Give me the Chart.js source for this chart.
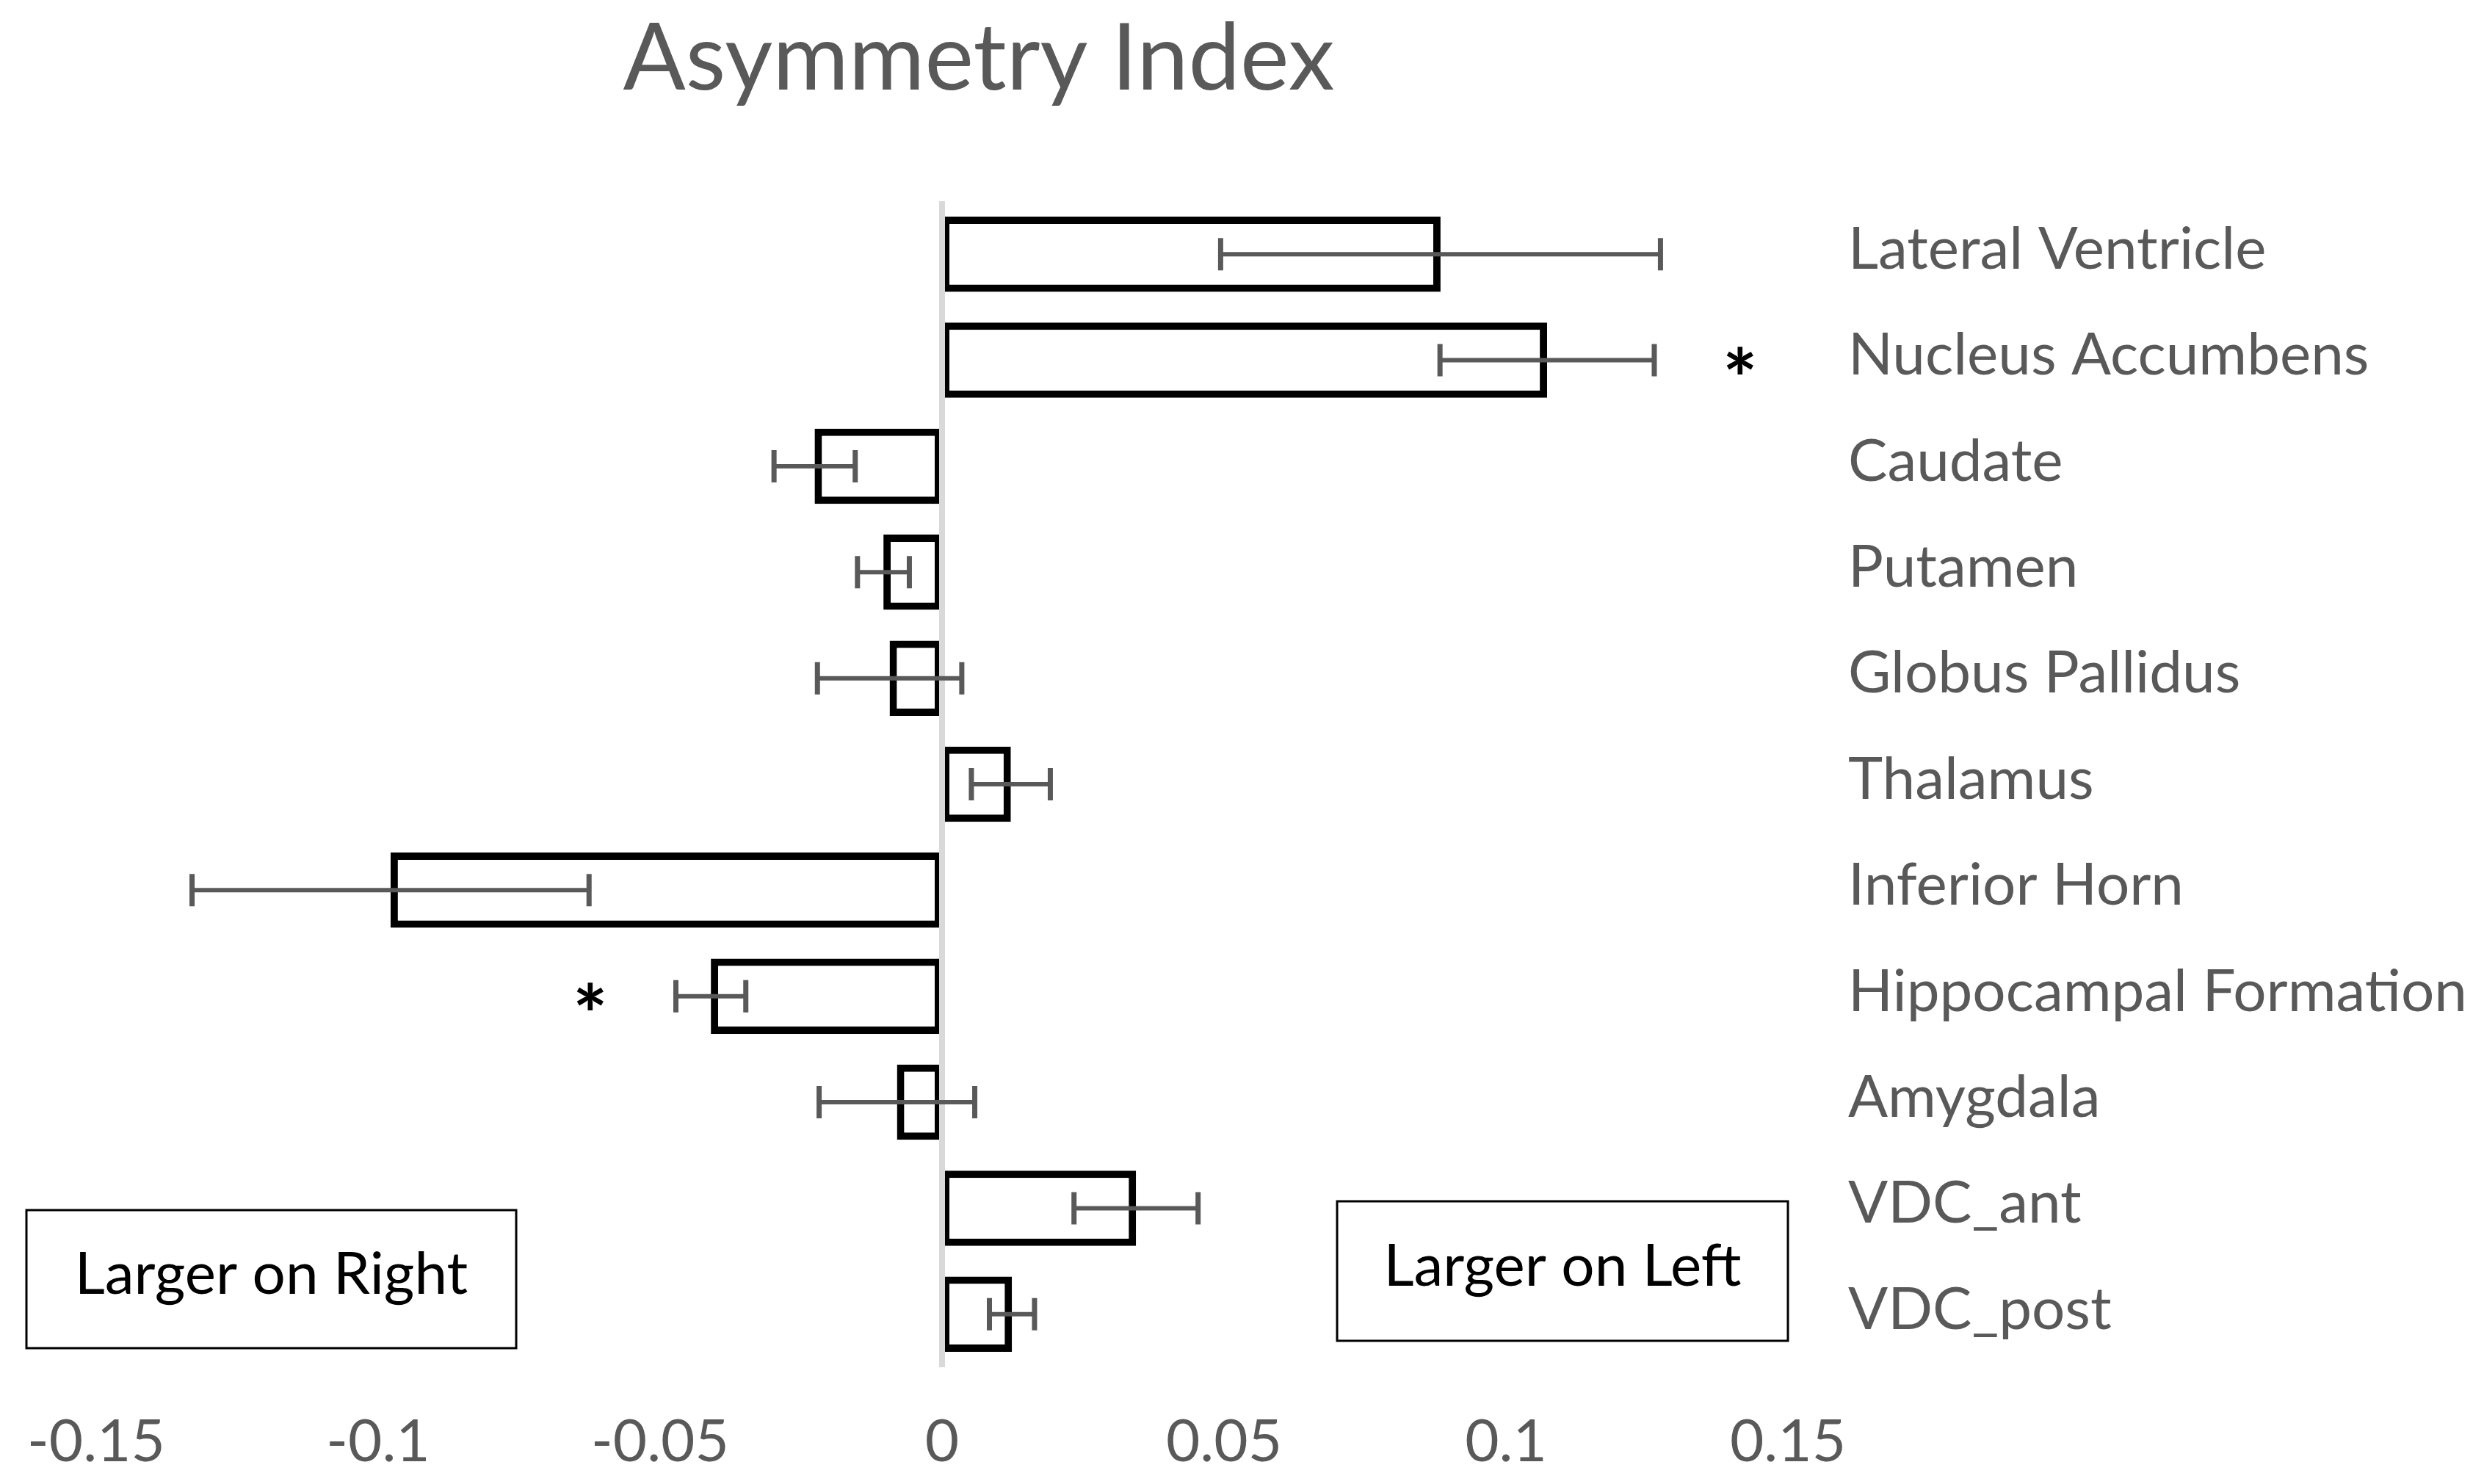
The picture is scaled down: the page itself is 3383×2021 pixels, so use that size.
<!DOCTYPE html>
<html>
<head>
<meta charset="utf-8">
<title>Asymmetry Index</title>
<script src="https://cdn.jsdelivr.net/npm/chart.js@4.4.1/dist/chart.umd.min.js"></script>
<style>
    html, body { margin: 0; padding: 0; background: #fff; }
    #wrap { width: 3383px; height: 2021px; }
</style>
</head>
<body>
<div id="wrap"><canvas id="asym-chart" width="3383" height="2021"></canvas></div>
<script>
/* ============================================= */
/*                     Data                      */
/* ============================================= */

const regions = ["Lateral Ventricle", "Nucleus Accumbens", "Caudate", "Putamen", "Globus Pallidus",
    "Thalamus", "Inferior Horn", "Hippocampal Formation", "Amygdala", "VDC_ant", "VDC_post"];
const asymmetry = [0.0884, 0.1073, -0.0226, -0.0104, -0.0093, 0.0122, -0.0978, -0.0410, -0.0080, 0.0344, 0.0124];
const stdError = [0.0390, 0.0190, 0.0072, 0.0046, 0.0128, 0.0070, 0.0352, 0.0062, 0.0138, 0.0110, 0.0040];
const significant = [false, true, false, false, false, false, false, true, false, false, false];
const xTicks = [-0.15, -0.1, -0.05, 0, 0.05, 0.1, 0.15];

const GREY = '#595959';
const FONT = 'Lato';

/* ============================================= */
/*         Zero line, error bars, notes          */
/* ============================================= */

const overlayPlugin = {
    id: 'overlay',
    afterDatasetsDraw(chart) {
        const { ctx, chartArea } = chart;
        const xs = chart.scales.x;
        const meta = chart.getDatasetMeta(0);
        const x0 = xs.getPixelForValue(0);

        ctx.save();
        // grey zero axis sits over the bar ends
        ctx.strokeStyle = '#d9d9d9';
        ctx.lineWidth = 8;
        ctx.beginPath();
        ctx.moveTo(x0, chartArea.top);
        ctx.lineTo(x0, chartArea.bottom);
        ctx.stroke();

        // error bars
        ctx.strokeStyle = GREY;
        meta.data.forEach((bar, i) => {
            const lo = xs.getPixelForValue(asymmetry[i] - stdError[i]);
            const hi = xs.getPixelForValue(asymmetry[i] + stdError[i]);
            const y = bar.y;
            ctx.lineWidth = 6;
            ctx.beginPath();
            ctx.moveTo(lo, y); ctx.lineTo(hi, y);
            ctx.stroke();
            ctx.lineWidth = 7;
            ctx.beginPath();
            ctx.moveTo(lo, y - 22); ctx.lineTo(lo, y + 22);
            ctx.moveTo(hi, y - 22); ctx.lineTo(hi, y + 22);
            ctx.stroke();
        });

        // significance stars, just past the error bar
        ctx.fillStyle = '#000';
        ctx.font = `bold 112px ${FONT}`;
        ctx.textAlign = 'center';
        ctx.textBaseline = 'alphabetic';
        meta.data.forEach((bar, i) => {
            if (!significant[i]) return;
            const side = asymmetry[i] >= 0 ? 1 : -1;
            const end = asymmetry[i] + side * stdError[i];
            const sx = xs.getPixelForValue(end + side * 0.0152);
            ctx.fillText('*', sx, bar.y + 66);
        });
        ctx.restore();
    },
    afterDraw(chart) {
        const { ctx, chartArea } = chart;
        ctx.save();

        // title
        ctx.fillStyle = GREY;
        ctx.font = `126px ${FONT}`;
        ctx.textAlign = 'center';
        ctx.textBaseline = 'alphabetic';
        ctx.fillText('Asymmetry Index', 1333, 122);

        // side notes
        const notes = [
            { text: 'Larger on Right', x: 36, y: 1648, w: 667, h: 188 },
            { text: 'Larger on Left', x: chartArea.right - 614, y: 1636, w: 614, h: 190 }
        ];
        ctx.strokeStyle = '#000';
        ctx.lineWidth = 3;
        ctx.font = `80px ${FONT}`;
        ctx.textBaseline = 'middle';
        notes.forEach(n => {
            ctx.fillStyle = '#fff';
            ctx.fillRect(n.x, n.y, n.w, n.h);
            ctx.strokeRect(n.x, n.y, n.w, n.h);
            ctx.fillStyle = '#000';
            ctx.fillText(n.text, n.x + n.w / 2, n.y + n.h / 2 - 6);
        });
        ctx.restore();
    }
};

/* ============================================= */
/*                  Bar Graph                    */
/* ============================================= */

const asymCanvas = document.getElementById('asym-chart');

const asymData = {
    labels: regions,
    datasets: [{
        data: asymmetry,
        backgroundColor: '#ffffff',
        borderColor: '#000000',
        borderWidth: 10,
        borderSkipped: false,
        categoryPercentage: 1,
        barPercentage: 0.71
    }]
};

const asymOptions = {
    indexAxis: 'y',
    responsive: false,
    devicePixelRatio: 1,
    animation: false,
    layout: {
        padding: { top: 274, left: 131, right: 0, bottom: 0 }
    },
    scales: {
        x: {
            min: -0.15,
            max: 0.15,
            grid: { display: false, drawTicks: false },
            border: { display: false },
            afterBuildTicks: scale => {
                scale.ticks = xTicks.map(v => ({ value: v }));
            },
            afterFit: scale => {
                // end labels may hang past the plot edge; layout padding decides
                scale.height = 159;
                scale.paddingLeft = 0;
                scale.paddingRight = 0;
            },
            ticks: {
                callback: v => String(v),
                color: GREY,
                font: { family: FONT, size: 80 },
                padding: 54,
                maxRotation: 0,
                autoSkip: false
            }
        },
        y: {
            position: 'right',
            grid: { display: false, drawTicks: false },
            border: { display: false },
            afterFit: scale => { scale.width = 948; },
            ticks: {
                color: GREY,
                font: { family: FONT, size: 80 },
                padding: 82,
                labelOffset: -6,
                autoSkip: false
            }
        }
    },
    plugins: {
        legend: { display: false },
        tooltip: { enabled: false }
    }
};

let asymChart = new Chart(asymCanvas, {
    type: 'bar',
    data: asymData,
    options: asymOptions,
    plugins: [overlayPlugin]
});
</script>
</body>
</html>
